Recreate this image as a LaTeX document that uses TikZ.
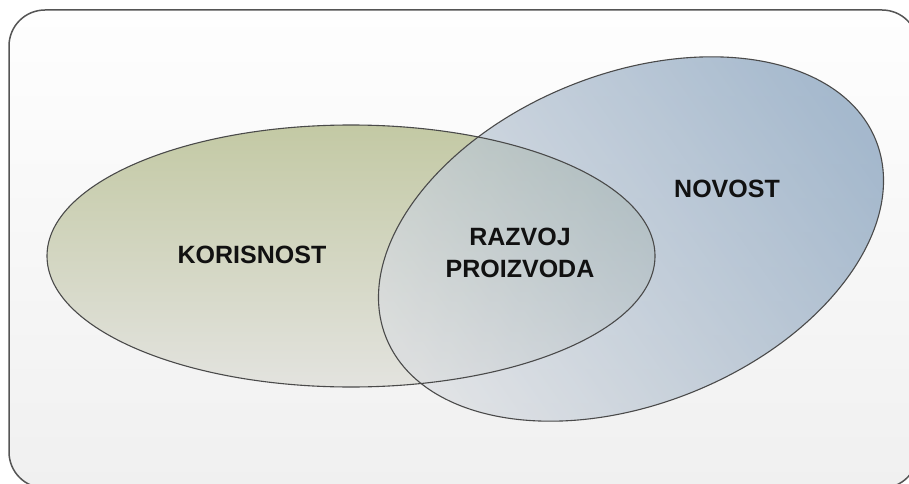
\documentclass[tikz,border=0pt]{standalone}
\usepackage{fontspec}
\setmainfont{Liberation Sans}
\usetikzlibrary{shapes.geometric}
\definecolor{frameline}{HTML}{555555}
\definecolor{bgtop}{HTML}{FEFEFE}
\definecolor{bgbot}{HTML}{F0F0F0}
\definecolor{oltop}{HTML}{C3C9A4}
\definecolor{olbot}{HTML}{E3E3DF}
\definecolor{bldark}{HTML}{819DBA}
\definecolor{bllight}{HTML}{DADDE1}
\definecolor{edge}{HTML}{4A4A4A}
\definecolor{txt}{HTML}{111111}
\tikzset{
  label/.style={font=\bfseries\fontsize{25}{32}\selectfont, text=txt, align=center, inner sep=0pt},
  outline/.style={draw=edge, line width=1.1pt}
}
\begin{document}
\begin{tikzpicture}[x=1pt,y=1pt]
\useasboundingbox (0,0) rectangle (909,483);
% background panel
\shade[top color=bgtop, bottom color=bgbot, draw=frameline, line width=1.5pt, rounded corners=36pt]
  (9,-5) rectangle (918,473);
% left ellipse (KORISNOST)
\shade[top color=oltop, bottom color=olbot] (351,227) ellipse [x radius=304, y radius=131];
% right ellipse (NOVOST), semi-transparent
\shade[fill opacity=0.7, top color=bldark, bottom color=bllight, shading angle=-55, rotate around={22:(631,244)}]
  (631,244) ellipse [x radius=264, y radius=165];
% outlines
\draw[outline] (351,227) ellipse [x radius=304, y radius=131];
\draw[outline, rotate around={22:(631,244)}] (631,244) ellipse [x radius=264, y radius=165];
% labels
\node[label, anchor=base] (kor) at (252,220) {KORISNOST};
\node[label, anchor=base] (nov) at (727,286) {NOVOST};
\node[label] (raz) at (520,230) {RAZVOJ\\PROIZVODA};
\end{tikzpicture}
\end{document}
